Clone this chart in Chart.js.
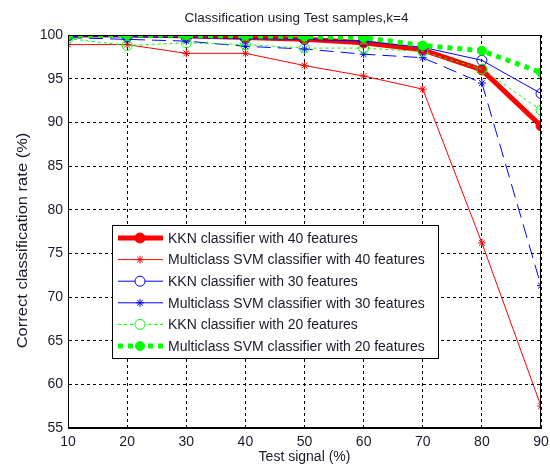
<!DOCTYPE html>
<html>
<head>
<meta charset="utf-8">
<script src="https://cdn.jsdelivr.net/npm/chart.js@4"></script>
<style>
  body { margin: 0; background: #fff; }
</style>
</head>
<body>
<canvas id="chart" width="550" height="469"></canvas>
<script>
// Test signal (%) on the x axis
const testSignal = [10, 20, 30, 40, 50, 60, 70, 80, 90];
// Correct classification rate (%) per classifier
const kkn40 = [100, 100, 99.9, 99.7, 99.5, 99.1, 98.3, 96.0, 89.6];
const svm40 = [98.9, 98.9, 97.9, 97.9, 96.5, 95.3, 93.8, 76.2, 57.5];
const kkn30 = [99.9, 99.8, 99.7, 99.6, 99.5, 99.3, 98.6, 97.1, 93.3];
const svm30 = [99.7, 99.5, 99.3, 98.7, 98.4, 97.8, 97.4, 94.5, 71.3];
const kkn20 = [99.6, 98.8, 99.1, 98.9, 98.5, 98.5, 98.1, 96.1, 91.4];
const svm20 = [100, 100, 99.95, 99.9, 99.8, 99.7, 98.8, 98.2, 95.7];
const seriesNames = [
  'KKN classifier with 40 features',
  'Multiclass SVM classifier with 40 features',
  'KKN classifier with 30 features',
  'Multiclass SVM classifier with 30 features',
  'KKN classifier with 20 features',
  'Multiclass SVM classifier with 20 features'
];
const yTicks = [55, 60, 65, 70, 75, 80, 85, 90, 95, 100];
const chartTitle = 'Classification using Test samples,k=4';
const yTitle = 'Correct classification rate (%)';

const FONT = '"Liberation Sans", Arial, sans-serif';
const TXT = '#1a1a2a';

function pts(arr) {
  return arr.map((v, i) => ({ x: testSignal[i], y: v }));
}

// style of each series (line + marker), used by chart and by the legend
const styles = [
  { color: 'rgb(255,0,0)', width: 5, dash: [], legDash: [], marker: 'circle', fill: true, r: 5 },
  { color: 'rgb(255,0,0)', width: 1, dash: [], legDash: [], marker: 'star', fill: false, r: 4 },
  { color: 'rgb(0,0,255)', width: 1, dash: [], legDash: [], marker: 'circle', fill: false, r: 5 },
  { color: 'rgb(0,0,255)', width: 1, dash: [14, 7], legDash: [], marker: 'star', fill: false, r: 4 },
  { color: 'rgb(0,255,0)', width: 1, dash: [3, 3], legDash: [3, 3], marker: 'circle', fill: false, r: 5 },
  { color: 'rgb(0,255,0)', width: 5, dash: [5, 5], legDash: [5, 5], marker: 'circle', fill: true, r: 4.5 }
];
const allSeries = [kkn40, svm40, kkn30, svm30, kkn20, svm20];

const datasets = allSeries.map((s, i) => {
  const st = styles[i];
  return {
    label: seriesNames[i],
    data: pts(s),
    borderColor: st.color,
    backgroundColor: st.fill ? st.color : 'rgba(0,0,0,0)',
    borderWidth: st.width,
    borderDash: st.dash,
    pointStyle: st.marker,
    pointRadius: st.r,
    pointBorderColor: st.color,
    pointBackgroundColor: st.fill ? st.color : 'rgba(0,0,0,0)',
    pointBorderWidth: 1,
    tension: 0,
    fill: false,
    order: 5 - i
  };
});

// box around plot, titles and legend inside plot
const boxAndLegend = {
  id: 'boxAndLegend',
  afterDraw(chart) {
    const ctx = chart.ctx;
    const a = chart.chartArea;
    ctx.save();
    ctx.strokeStyle = '#000';
    ctx.lineWidth = 1;
    ctx.setLineDash([]);
    ctx.strokeRect(a.left + 0.5, a.top + 0.5, a.right - a.left - 1, a.bottom - a.top - 1);

    // title, centred over the axes like matlab does
    ctx.font = '13.5px ' + FONT;
    ctx.fillStyle = TXT;
    ctx.textAlign = 'center';
    ctx.textBaseline = 'middle';
    ctx.fillText(chartTitle, (a.left + a.right) / 2 - 8, 18);

    // y axis title (matlab export stretches it a bit)
    ctx.save();
    ctx.translate(23, (a.top + a.bottom) / 2 + 9);
    ctx.rotate(-Math.PI / 2);
    ctx.scale(1.18, 1);
    ctx.font = '14px ' + FONT;
    ctx.fillText(yTitle, 0, 0);
    ctx.restore();

    // legend
    const lx = 112, ly = 225, lw = 326, lh = 133;
    ctx.textAlign = 'left';
    ctx.fillStyle = '#fff';
    ctx.fillRect(lx, ly, lw, lh);
    ctx.strokeRect(lx + 0.5, ly + 0.5, lw, lh);
    ctx.font = '14px ' + FONT;
    for (let i = 0; i < seriesNames.length; i++) {
      const st = styles[i];
      const y = ly + 13 + i * 21.6;
      ctx.strokeStyle = st.color;
      ctx.lineWidth = st.width;
      ctx.setLineDash(st.legDash);
      ctx.beginPath();
      ctx.moveTo(118, y);
      ctx.lineTo(163, y);
      ctx.stroke();
      ctx.setLineDash([]);
      ctx.lineWidth = 1;
      const mx = 140, r = st.r;
      if (st.marker === 'circle') {
        ctx.beginPath();
        ctx.arc(mx, y, r, 0, Math.PI * 2);
        ctx.fillStyle = st.fill ? st.color : '#fff';
        ctx.fill();
        ctx.stroke();
      } else {
        ctx.beginPath();
        for (let k = 0; k < 4; k++) {
          const ang = k * Math.PI / 4;
          ctx.moveTo(mx - r * Math.cos(ang), y - r * Math.sin(ang));
          ctx.lineTo(mx + r * Math.cos(ang), y + r * Math.sin(ang));
        }
        ctx.stroke();
      }
      ctx.fillStyle = TXT;
      ctx.fillText(seriesNames[i], 168, y + 1);
    }
    ctx.restore();
  }
};

new Chart(document.getElementById('chart'), {
  type: 'line',
  data: { datasets: datasets },
  options: {
    responsive: false,
    animation: false,
    layout: { padding: { left: 0, right: 9, top: 35, bottom: 0 } },
    plugins: {
      legend: { display: false },
      tooltip: { enabled: false },
      title: { display: false }
    },
    scales: {
      x: {
        type: 'linear',
        min: 10,
        max: 90,
        afterBuildTicks: (s) => { s.ticks = testSignal.map(v => ({ value: v })); },
        afterFit: (s) => { s.height = 41; s.paddingLeft = 0; s.paddingRight = 0; },
        grid: { color: '#000', drawTicks: false, lineWidth: 1 },
        border: { display: true, color: '#000', dash: [3, 3] },
        ticks: { color: TXT, font: { family: FONT, size: 14 }, padding: 6, maxRotation: 0 },
        title: { display: true, text: 'Test signal (%)', color: TXT, font: { family: FONT, size: 14 }, padding: { top: 0, bottom: 3 } }
      },
      y: {
        min: 55,
        max: 100,
        afterBuildTicks: (s) => { s.ticks = yTicks.map(v => ({ value: v })); },
        afterFit: (s) => { s.width = 68; s.paddingTop = 0; s.paddingBottom = 0; },
        grid: { color: '#000', drawTicks: false, lineWidth: 1 },
        border: { display: true, color: '#000', dash: [3, 3] },
        ticks: { color: TXT, font: { family: FONT, size: 14 }, padding: 5 }
      }
    }
  },
  plugins: [boxAndLegend]
});
</script>
</body>
</html>
